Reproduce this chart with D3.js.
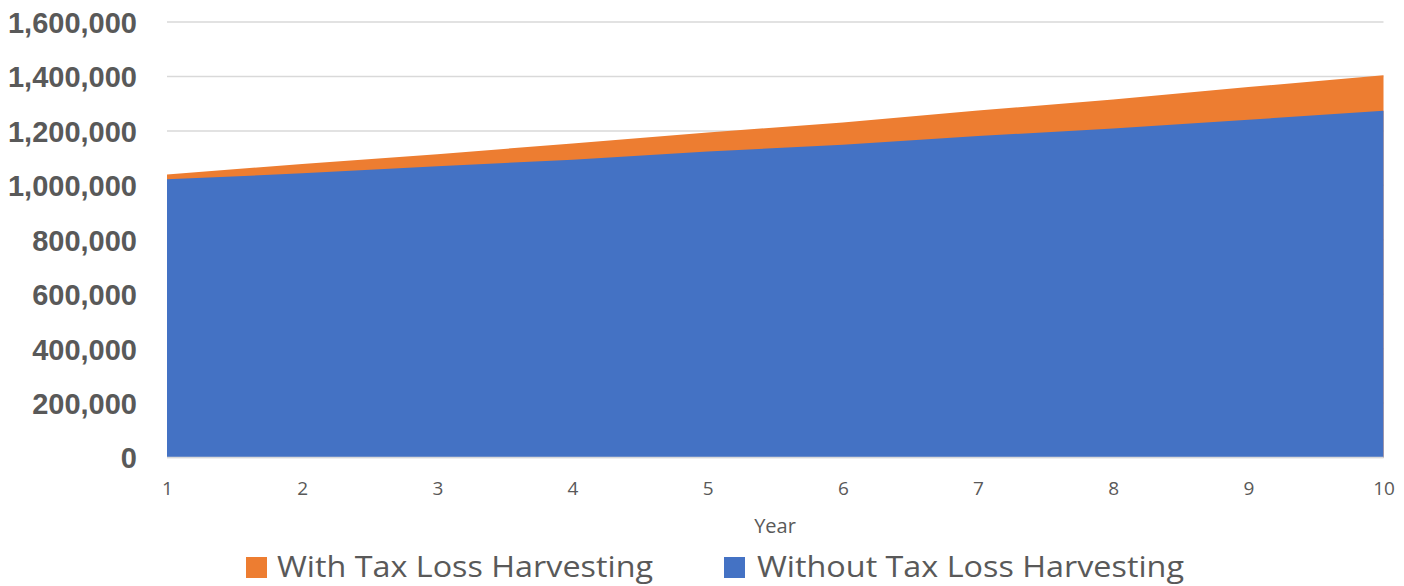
<!DOCTYPE html>
<html>
<head>
<meta charset="utf-8">
<script src="https://cdn.jsdelivr.net/npm/d3@7/dist/d3.min.js"></script>
<style>
  html, body { margin: 0; padding: 0; background: #ffffff; }
  svg { display: block; }
</style>
</head>
<body>
<svg id="chart" width="1404" height="586"></svg>
<script>
// Portfolio value by year, with and without tax loss harvesting
const years = [1, 2, 3, 4, 5, 6, 7, 8, 9, 10];
const withTLH = [1040000, 1078000, 1114000, 1154000, 1194000, 1231000, 1275000, 1315000, 1361000, 1404000];
const withoutTLH = [1022000, 1044000, 1070000, 1094000, 1124000, 1149000, 1181000, 1209000, 1241000, 1274000];
const yTicks = [0, 200000, 400000, 600000, 800000, 1000000, 1200000, 1400000, 1600000];
const seriesNames = ["With Tax Loss Harvesting", "Without Tax Loss Harvesting"];
const seriesColors = ["#ED7D31", "#4472C4"];
const xTitle = "Year";

const svg = d3.select("#chart");
const margin = { left: 167, right: 20, top: 22, bottom: 128.5 };
const W = 1404, H = 586;
const textColor = "#595959";

const x = d3.scaleLinear().domain([1, 10]).range([margin.left, W - margin.right - 0.5]);
const y = d3.scaleLinear().domain([0, 1600000]).range([H - margin.bottom, margin.top]);

// Horizontal gridlines
svg.append("g")
  .selectAll("line")
  .data(yTicks)
  .join("line")
  .attr("x1", x.range()[0])
  .attr("x2", x.range()[1])
  .attr("y1", d => y(d))
  .attr("y2", d => y(d))
  .attr("stroke", "#D9D9D9")
  .attr("stroke-width", 1.5);

// Areas: the "with" series sits behind, the "without" series is drawn over it
const area = d3.area()
  .x((d, i) => x(years[i]))
  .y0(y(0))
  .y1(d => y(d));

[withTLH, withoutTLH].forEach((vals, i) => {
  svg.append("path")
    .datum(vals)
    .attr("d", area)
    .attr("fill", seriesColors[i]);
});

// Bottom axis line
svg.append("line")
  .attr("x1", x.range()[0]).attr("x2", x.range()[1])
  .attr("y1", y(0)).attr("y2", y(0))
  .attr("stroke", "#D9D9D9").attr("stroke-width", 1.5);

// Y axis labels
const yAxis = d3.axisLeft(y).tickValues(yTicks).tickFormat(d3.format(",")).tickSize(0).tickPadding(30);
const gy = svg.append("g").attr("transform", `translate(${margin.left},0)`).call(yAxis);
gy.select(".domain").remove();
gy.selectAll("text")
  .attr("font-family", "'Liberation Sans', Arial, sans-serif")
  .attr("font-weight", "bold")
  .attr("font-size", 29)
  .attr("fill", textColor)
  .attr("dy", "0.36em");

// X axis labels
const xAxis = d3.axisBottom(x).tickValues(years).tickFormat(d3.format("d")).tickSize(0).tickPadding(24);
const gx = svg.append("g").attr("transform", `translate(0,${y(0)})`).call(xAxis);
gx.select(".domain").remove();
gx.attr("font-size", 19).attr("font-family", "'Open Sans', 'Liberation Sans', sans-serif");
gx.selectAll("text")
  .attr("font-family", "'Open Sans', 'Liberation Sans', sans-serif")
  .attr("font-size", 19)
  .attr("fill", textColor);

// X axis title
svg.append("text")
  .attr("x", 775)
  .attr("y", 533)
  .attr("text-anchor", "middle")
  .attr("font-family", "'Open Sans', 'Liberation Sans', sans-serif")
  .attr("font-size", 20)
  .attr("fill", textColor)
  .text(xTitle);

// Legend
const legendItems = [
  { sx: 246, tx: 277, width: 376 },
  { sx: 724, tx: 757, width: 427 }
];
legendItems.forEach((it, i) => {
  svg.append("rect")
    .attr("x", it.sx).attr("y", 557)
    .attr("width", 21).attr("height", 21)
    .attr("fill", seriesColors[i]);
  svg.append("text")
    .attr("x", it.tx)
    .attr("y", 577)
    .attr("font-family", "'Open Sans', 'Liberation Sans', sans-serif")
    .attr("font-size", 29)
    .attr("fill", textColor)
    .attr("textLength", it.width)
    .attr("lengthAdjust", "spacingAndGlyphs")
    .text(seriesNames[i]);
});
</script>
</body>
</html>
